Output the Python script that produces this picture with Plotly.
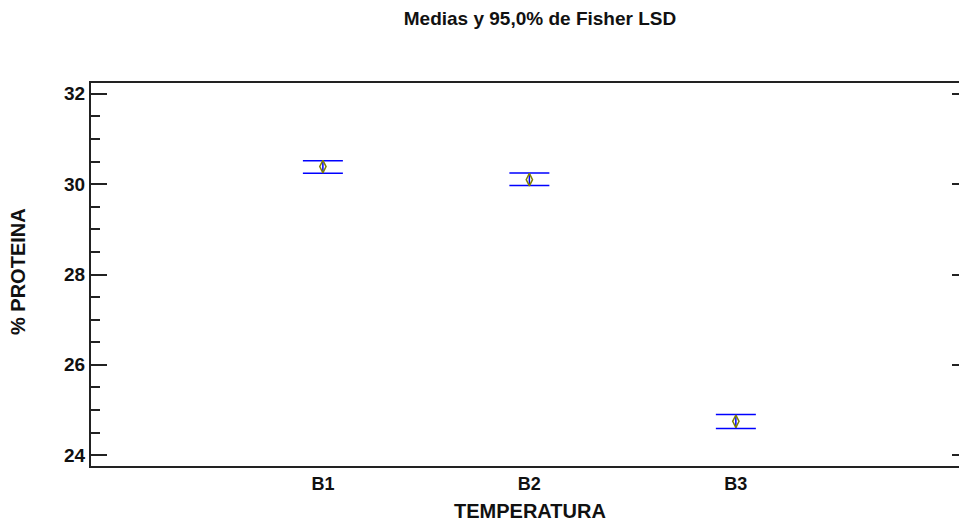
import plotly.graph_objects as go

categories = ["B1", "B2", "B3"]
x_pos = [1, 2, 3]
means = [30.39, 30.10, 24.75]
lower = [30.24, 29.97, 24.59]
upper = [30.52, 30.25, 24.90]
y_ticks = [24, 26, 28, 30, 32]
y_minor = [24.5, 25, 25.5, 26.5, 27, 27.5, 28.5, 29, 29.5, 30.5, 31, 31.5]

err_plus = [u - m for u, m in zip(upper, means)]
err_minus = [m - l for m, l in zip(means, lower)]

FONT = "Liberation Sans, Arial, sans-serif"
W, H = 963, 526
L, R, T, B = 91, 0, 83, 60

fig = go.Figure()
fig.add_trace(go.Scatter(
    x=x_pos, y=means, mode="markers",
    marker=dict(symbol="diamond-tall-open", size=9, color="#808000",
                line=dict(width=1.5, color="#808000")),
    error_y=dict(type="data", symmetric=False, array=err_plus, arrayminus=err_minus,
                 color="#0000ff", thickness=1.5, width=20),
    showlegend=False,
))
fig.add_trace(go.Scatter(x=x_pos, y=means, yaxis="y2", mode="markers",
                         marker=dict(opacity=0), showlegend=False, hoverinfo="skip"))

fig.update_layout(
    width=W, height=H,
    margin=dict(l=L, r=R, t=T, b=B, autoexpand=False),
    paper_bgcolor="white", plot_bgcolor="white",
    font=dict(family=FONT, color="#111111"),
    title=dict(text="<b>Medias y 95,0% de Fisher LSD</b>", xref="container", x=540/W,
               xanchor="center", yref="container", y=1 - 18/H, yanchor="middle",
               font=dict(size=19, family=FONT, color="#111111")),
    xaxis=dict(range=[-0.123, 4.10], tickmode="array", tickvals=x_pos,
               ticktext=["<b>%s</b>" % c for c in categories], automargin=False,
               showgrid=False, zeroline=False, showline=True, linewidth=2, linecolor="#222222",
               mirror=True, ticks="", tickfont=dict(size=18, family=FONT)),
    yaxis=dict(range=[23.76, 32.24], tickmode="array", tickvals=y_ticks,
               ticktext=["<b>%d</b>" % v for v in y_ticks], automargin=False,
               showgrid=False, zeroline=False, showline=True, linewidth=2, linecolor="#222222",
               ticks="inside", ticklen=16, tickwidth=1.5, tickcolor="#222222",
               minor=dict(tickvals=y_minor, ticks="inside", ticklen=9, tickwidth=1.5,
                          tickcolor="#222222"),
               tickfont=dict(size=19, family=FONT)),
    yaxis2=dict(range=[23.76, 32.24], overlaying="y", side="right", tickmode="array",
                tickvals=y_ticks, showticklabels=False, showgrid=False, automargin=False,
                zeroline=False, showline=False, ticks="inside", ticklen=11, tickwidth=2,
                tickcolor="#222222"),
    annotations=[
        dict(text="<b>TEMPERATURA</b>", xref="paper", yref="paper",
             x=(530 - L) / (W - L - R), y=-(511 - (H - B)) / (H - T - B),
             xanchor="center", yanchor="middle", showarrow=False,
             font=dict(size=20, family=FONT, color="#111111")),
        dict(text="<b>% PROTEINA</b>", xref="paper", yref="paper",
             x=-(L - 18) / (W - L - R), y=((H - B) - 272) / (H - T - B),
             xanchor="center", yanchor="middle", textangle=-90, showarrow=False,
             font=dict(size=20, family=FONT, color="#111111")),
    ],
)

fig.write_html(
    "out.html",
    config={"responsive": False, "displayModeBar": False},
    default_width="963px", default_height="526px",
    post_script="document.body.style.margin='0';document.body.style.overflow='hidden';",
)
